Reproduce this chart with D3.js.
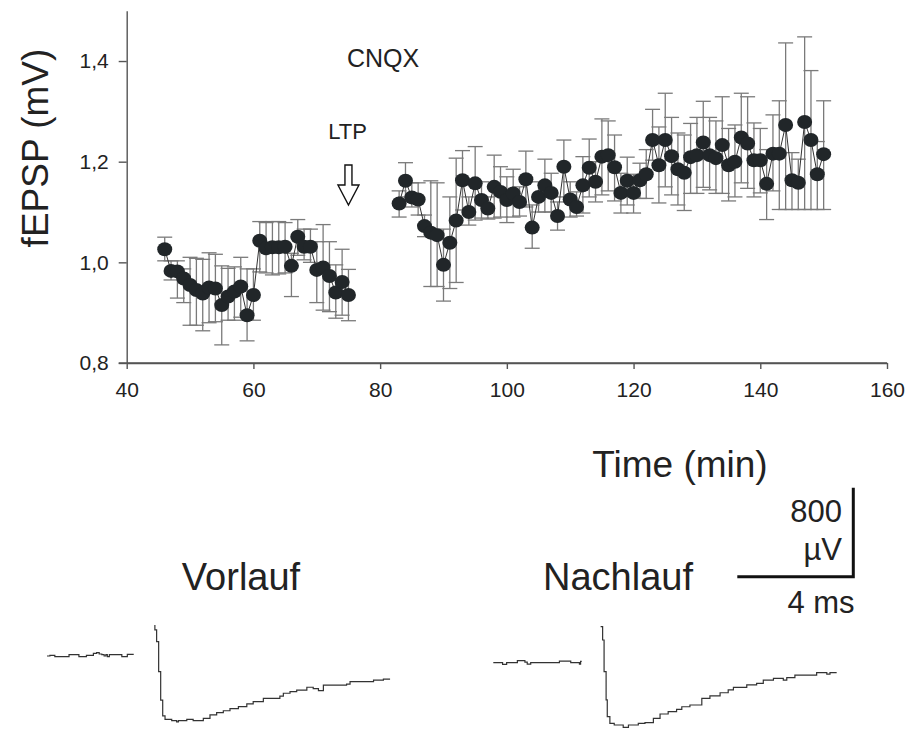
<!DOCTYPE html>
<html>
<head>
<meta charset="utf-8">
<script src="https://cdn.jsdelivr.net/npm/d3@7"></script>
<style>
  body { margin: 0; background: #fff; }
  svg { display: block; font-family: "Liberation Sans", Arial, sans-serif; }
</style>
</head>
<body>
<svg width="907" height="729"></svg>
<script>
// fEPSP-Daten: vor LTP (46-75 min) und nach LTP (83-150 min)
var minutesPre = [46,47,48,49,50,51,52,53,54,55,56,57,58,59,60,61,62,63,64,65,66,67,68,69,70,71,72,73,74,75];
var meanPre  = [1.026,0.983,0.982,0.968,0.955,0.945,0.938,0.950,0.948,0.915,0.932,0.942,0.952,0.895,0.935,1.043,1.028,1.030,1.030,1.031,0.993,1.051,1.031,1.031,0.985,0.990,0.973,0.940,0.961,0.935];
var upperPre = [1.050,1.003,1.003,0.987,1.010,1.008,1.006,1.019,1.016,0.993,0.988,0.991,1.010,0.987,0.987,1.081,1.079,1.081,1.081,1.079,1.018,1.085,1.066,1.066,1.041,1.075,1.041,0.995,1.026,0.986];
var lowerPre = [1.003,0.965,0.929,0.920,0.875,0.875,0.864,0.880,0.882,0.836,0.885,0.885,0.891,0.844,0.885,0.981,0.979,0.975,0.977,0.979,0.932,1.014,1.005,1.000,0.920,0.905,0.902,0.889,0.895,0.884];

var minutesPost = [83,84,85,86,87,88,89,90,91,92,93,94,95,96,97,98,99,100,101,102,103,104,105,106,107,108,109,110,111,112,113,114,115,116,117,118,119,120,121,122,123,124,125,126,127,128,129,130,131,132,133,134,135,136,137,138,139,140,141,142,143,144,145,146,147,148,149,150];
var meanPost  = [1.117,1.162,1.129,1.125,1.072,1.059,1.054,0.995,1.039,1.083,1.163,1.100,1.157,1.124,1.107,1.150,1.140,1.124,1.137,1.120,1.165,1.069,1.130,1.153,1.138,1.092,1.190,1.125,1.110,1.153,1.188,1.160,1.210,1.213,1.189,1.138,1.162,1.138,1.163,1.175,1.243,1.193,1.243,1.211,1.185,1.178,1.209,1.213,1.238,1.213,1.207,1.233,1.193,1.200,1.248,1.236,1.203,1.203,1.156,1.216,1.216,1.273,1.163,1.158,1.279,1.243,1.175,1.215];
var upperPost = [1.142,1.198,1.158,1.158,1.094,1.162,1.158,1.066,1.130,1.207,1.222,1.130,1.230,1.160,1.130,1.213,1.190,1.170,1.185,1.150,1.221,1.114,1.160,1.205,1.177,1.120,1.243,1.160,1.140,1.210,1.245,1.200,1.285,1.281,1.253,1.177,1.209,1.175,1.197,1.224,1.304,1.269,1.336,1.288,1.257,1.253,1.276,1.288,1.320,1.288,1.281,1.329,1.266,1.273,1.336,1.329,1.277,1.266,1.224,1.293,1.321,1.436,1.218,1.205,1.448,1.381,1.240,1.321];
var lowerPost = [1.090,1.130,1.110,1.094,1.051,0.952,0.952,0.923,0.948,0.960,1.104,1.074,1.084,1.088,1.086,1.088,1.090,1.079,1.090,1.092,1.110,1.028,1.100,1.100,1.100,1.064,1.130,1.090,1.092,1.098,1.130,1.120,1.134,1.142,1.122,1.098,1.114,1.098,1.127,1.127,1.203,1.118,1.150,1.134,1.114,1.103,1.137,1.137,1.149,1.144,1.137,1.137,1.122,1.130,1.158,1.147,1.130,1.138,1.085,1.142,1.105,1.105,1.105,1.105,1.105,1.105,1.105,1.105];

// Achsen
var xTicks = [40, 60, 80, 100, 120, 140, 160];
var yTicks = [0.8, 1.0, 1.2, 1.4];
var ltpMinute = 75;

// Beispielspuren (ms, µV) relativ zur Grundlinie
var vorlaufMs = [0,0.10,0.27,0.73,0.76,1.07,1.10,1.30,1.36,1.57,1.60,1.71,1.80,1.89,1.97,2.03,2.08,2.15,2.52,2.58,2.75,2.77,2.97];
var vorlaufUv = [0,6,-6,-6,12,12,-6,-6,6,6,24,30,18,12,0,12,-6,12,12,-6,-6,15,20];
var vorlaufSpikeMs = [3.72,3.72,3.78,3.85,3.92,3.99,4.07,4.30,4.47,4.53,4.82,5.04,5.22,5.39,5.62,5.85,6.08,6.31,6.60,6.89,7.11,7.46,8.03,8.15,8.38,8.61,8.96,9.18,9.36,9.53,10.33,10.45,10.91,11.26,11.60,11.83];
var vorlaufSpikeUv = [279,234,129,-141,-396,-539,-569,-581,-593,-581,-569,-581,-581,-560,-530,-509,-492,-473,-455,-431,-411,-380,-360,-335,-321,-306,-281,-294,-312,-261,-252,-231,-231,-216,-207,-207];

var nachlaufMs = [0,0.29,0.32,0.44,0.46,0.80,0.83,1.03,1.09,1.17,1.24,1.29,2.24,2.28,2.64,2.67,2.93,2.97,3.01,3.05];
var nachlaufUv = [0,0,-15,-15,0,0,18,18,6,-12,-12,0,0,15,15,0,0,-12,12,12];
var nachlaufSpikeMs = [3.70,3.77,3.82,3.89,3.93,4.02,4.17,4.48,4.66,5.00,5.23,5.52,5.75,6.03,6.32,6.50,6.78,7.07,7.19,7.47,7.82,8.10,8.28,8.62,8.74,9.08,9.31,9.66,10.00,10.12,10.40,11.15,11.50,11.61,11.84];
var nachlaufSpikeUv = [324,204,-81,-335,-485,-545,-560,-581,-560,-545,-539,-500,-461,-440,-419,-396,-380,-380,-320,-299,-270,-245,-221,-221,-200,-185,-156,-140,-156,-135,-111,-90,-102,-90,-90];

var svg = d3.select("svg");

var x = d3.scaleLinear().domain([40, 160]).range([126.7, 887]);
var y = d3.scaleLinear().domain([0.8, 1.5]).range([363, 10.7]);

// y-Achse
var yAxis = svg.append("g")
    .attr("transform", "translate(126.7,0)")
    .call(d3.axisLeft(y).tickValues(yTicks).tickSize(8).tickSizeOuter(0)
        .tickFormat(function(d){ return d3.format(".1f")(d).replace(".", ","); }));
// x-Achse
var xAxis = svg.append("g")
    .attr("transform", "translate(0,363)")
    .call(d3.axisBottom(x).tickValues(xTicks).tickSize(6).tickSizeOuter(0));

[yAxis, xAxis].forEach(function(a){
  a.select(".domain").attr("stroke", "#555").attr("stroke-width", 1.4);
  a.selectAll(".tick line").attr("stroke", "#555").attr("stroke-width", 1.4);
  a.selectAll(".tick text").attr("fill", "#222").style("font-size", "21px")
    .style("font-family", "'Liberation Sans', Arial, sans-serif");
});
yAxis.selectAll(".tick text").attr("x", -18);
xAxis.selectAll(".tick text").attr("y", 19);
// Achsenlinie bis zum 0,8-Tick verlängern
svg.append("line").attr("x1", 118.7).attr("x2", 887).attr("y1", 363).attr("y2", 363)
    .attr("stroke", "#555").attr("stroke-width", 1.4);

svg.append("text")
    .attr("transform", "translate(48,148) rotate(-90)")
    .attr("text-anchor", "middle")
    .style("font-size", "37px").attr("fill", "#222")
    .text("fEPSP (mV)");

svg.append("text")
    .attr("x", 680).attr("y", 477)
    .attr("text-anchor", "middle")
    .style("font-size", "37px").attr("fill", "#222")
    .text("Time (min)");

// Segmente zeichnen
function drawSeries(mins, mean, up, lo) {
  var pts = mins.map(function(m, i){ return {t: m, v: mean[i], u: up[i], l: lo[i]}; });
  var g = svg.append("g");
  var eb = g.selectAll("g.eb").data(pts).enter().append("g")
      .attr("stroke", "#7a7a7a").attr("stroke-width", 1.3);
  eb.append("line")
      .attr("x1", function(d){ return x(d.t); }).attr("x2", function(d){ return x(d.t); })
      .attr("y1", function(d){ return y(d.u); }).attr("y2", function(d){ return y(d.l); });
  eb.append("line")
      .attr("x1", function(d){ return x(d.t) - 7.5; }).attr("x2", function(d){ return x(d.t) + 7.5; })
      .attr("y1", function(d){ return y(d.u); }).attr("y2", function(d){ return y(d.u); });
  eb.append("line")
      .attr("x1", function(d){ return x(d.t) - 7.5; }).attr("x2", function(d){ return x(d.t) + 7.5; })
      .attr("y1", function(d){ return y(d.l); }).attr("y2", function(d){ return y(d.l); });

  g.append("path").datum(pts)
      .attr("fill", "none").attr("stroke", "#333").attr("stroke-width", 1)
      .attr("d", d3.line().x(function(d){ return x(d.t); }).y(function(d){ return y(d.v); }));

  g.selectAll("ellipse").data(pts).enter().append("ellipse")
      .attr("cx", function(d){ return x(d.t); })
      .attr("cy", function(d){ return y(d.v); })
      .attr("rx", 7.5).attr("ry", 7)
      .attr("fill", "#212629");
}
drawSeries(minutesPre, meanPre, upperPre, lowerPre);
drawSeries(minutesPost, meanPost, upperPost, lowerPost);

// Beschriftungen
svg.append("text").attr("x", 383).attr("y", 66.5).attr("text-anchor", "middle")
    .style("font-size", "25px").attr("fill", "#222").text("CNQX");
svg.append("text").attr("x", 347.5).attr("y", 139).attr("text-anchor", "middle")
    .style("font-size", "22px").attr("fill", "#222").text("LTP");

// Pfeil (LTP-Zeitpunkt)
var ax = x(ltpMinute);
svg.append("path")
    .attr("d", "M" + (ax - 3.5) + ",165 L" + (ax + 3.5) + ",165 L" + (ax + 3.5) + ",185 L" + (ax + 10.5) + ",185 L" + ax + ",205 L" + (ax - 10.5) + ",185 L" + (ax - 3.5) + ",185 Z")
    .attr("fill", "#fff").attr("stroke", "#111").attr("stroke-width", 1.4);

// Spuren
var ms = d3.scaleLinear().domain([0, 4]).range([0, 116]);
var uv = d3.scaleLinear().domain([0, 800]).range([0, -89]);

function drawTrace(x0, y0, msArr, uvArr) {
  var pts = msArr.map(function(m, i){ return [m, uvArr[i]]; });
  svg.append("path").datum(pts)
      .attr("transform", "translate(" + x0 + "," + y0 + ")")
      .attr("fill", "none").attr("stroke", "#333").attr("stroke-width", 1.2)
      .attr("d", d3.line().curve(d3.curveStepAfter)
          .x(function(d){ return ms(d[0]); }).y(function(d){ return uv(d[1]); }));
}
drawTrace(47, 656, vorlaufMs, vorlaufUv);
drawTrace(47, 656, vorlaufSpikeMs, vorlaufSpikeUv);
drawTrace(493.3, 662.7, nachlaufMs, nachlaufUv);
drawTrace(493.3, 662.7, nachlaufSpikeMs, nachlaufSpikeUv);

svg.append("text").attr("x", 241).attr("y", 590).attr("text-anchor", "middle")
    .style("font-size", "38px").attr("fill", "#222").text("Vorlauf");
svg.append("text").attr("x", 618).attr("y", 590).attr("text-anchor", "middle")
    .style("font-size", "38px").attr("fill", "#222").text("Nachlauf");

// Maßstab: 4 ms / 800 µV
var sbX = 853.3, sbY = 576.7;
svg.append("path")
    .attr("d", "M" + (sbX - ms(4)) + "," + sbY + " L" + sbX + "," + sbY + " L" + sbX + "," + (sbY + uv(800)))
    .attr("fill", "none").attr("stroke", "#111").attr("stroke-width", 3);
svg.append("text").attr("x", 842).attr("y", 521.5).attr("text-anchor", "end")
    .style("font-size", "31px").attr("fill", "#222").text("800");
svg.append("text").attr("x", 842).attr("y", 560).attr("text-anchor", "end")
    .style("font-size", "31px").attr("fill", "#222").text("µV");
svg.append("text").attr("x", 821).attr("y", 612.5).attr("text-anchor", "middle")
    .style("font-size", "31px").attr("fill", "#222").text("4 ms");
</script>
</body>
</html>
